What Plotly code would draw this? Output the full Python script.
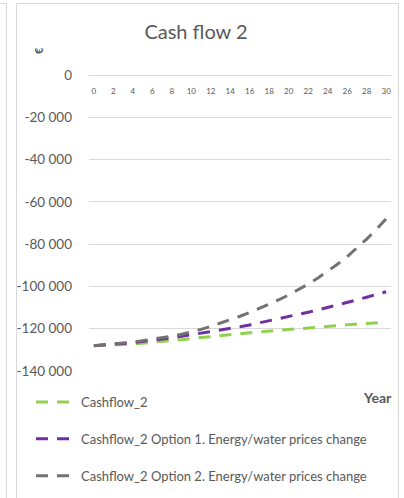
import plotly.graph_objects as go

# Cumulative cash flow (EUR) per year for the three scenarios
years = list(range(0, 31))
cashflow_base = [
    -128000, -127900, -127700, -127450, -127200, -126850, -126500, -126100,
    -125700, -125200, -124650, -124150, -123650, -123200, -122800, -122350,
    -121900, -121500, -121100, -120700, -120300, -119950, -119600, -119200,
    -118800, -118450, -118100, -117800, -117500, -117200, -116900,
]
cashflow_opt1 = [
    -128000, -127750, -127400, -127000, -126600, -126100, -125600, -125000,
    -124300, -123600, -122900, -122200, -121500, -120750, -120000, -119100,
    -118200, -117250, -116300, -115300, -114300, -113250, -112200, -111100,
    -110000, -108800, -107600, -106350, -105100, -103800, -102500,
]
cashflow_opt2 = [
    -128000, -127700, -127300, -126800, -126300, -125700, -125100, -124400,
    -123600, -122600, -121500, -120300, -118900, -117400, -115800, -114100,
    -112300, -110400, -108400, -106300, -104000, -101500, -98900, -96000,
    -92900, -89500, -85900, -81900, -77600, -73000, -68000,
]
series_names = [
    "Cashflow_2",
    "Cashflow_2 Option 1. Energy/water prices change",
    "Cashflow_2 Option 2. Energy/water prices change",
]
series_colors = ["#92D050", "#7030A0", "#767171"]

x_tick_vals = years[::2]
y_tick_vals = [0, -20000, -40000, -60000, -80000, -100000, -120000, -140000]
y_tick_text = ["0", "-20 000", "-40 000", "-60 000", "-80 000", "-100 000",
               "-120 000", "-140 000"]

W, H = 404, 498
ML, MR, MT, MB = 89, 13, 75, 127
PW, PH = W - ML - MR, H - MT - MB
FONT = "Lato"
TXT = "#595959"
GRID = "#D9D9D9"


def px_x(px):
    return (px - ML) / PW


def px_y(py):
    return (H - MB - py) / PH


fig = go.Figure()
for name, vals, col in zip(series_names,
                           [cashflow_base, cashflow_opt1, cashflow_opt2],
                           series_colors):
    fig.add_trace(go.Scatter(
        x=years, y=vals, name=name, mode="lines", legendgroup=name,
        line=dict(color=col, width=3, dash="12px,9px"),
    ))

fig.update_layout(
    width=W, height=H,
    margin=dict(l=ML, r=MR, t=MT, b=MB, pad=0, autoexpand=False),
    paper_bgcolor="white", plot_bgcolor="white",
    font=dict(family=FONT, color=TXT),
    title=dict(text="Cash flow 2", x=196 / W, xanchor="center",
               y=1 - 32 / H, yanchor="middle",
               font=dict(size=20, color=TXT, family=FONT)),
    xaxis=dict(
        range=[-0.5, 30.5], tickmode="array", tickvals=x_tick_vals,
        showgrid=False, zeroline=False, showline=False,
        anchor="free", position=1, side="bottom",
        ticks="", ticklabelstandoff=10,
        tickfont=dict(size=8, color=TXT, family=FONT),
    ),
    yaxis=dict(
        range=[-140000, 0], tickmode="array", tickvals=y_tick_vals,
        ticktext=y_tick_text, showgrid=True, gridcolor=GRID, gridwidth=1,
        zeroline=True, zerolinecolor=GRID, zerolinewidth=1,
        showline=False, ticks="", ticklabelstandoff=16,
        tickfont=dict(size=13.5, color=TXT, family=FONT),
    ),
    legend=dict(
        xref="container", yref="container",
        x=31 / W, y=1 - 387 / H, xanchor="left", yanchor="top",
        font=dict(size=13, color=TXT, family=FONT),
        tracegroupgap=17, itemwidth=40, bgcolor="rgba(0,0,0,0)",
        borderwidth=0,
    ),
    showlegend=True,
)

# Axis captions
fig.add_annotation(text="€", xref="paper", yref="paper",
                   x=px_x(30), y=px_y(45), showarrow=False, textangle=-90,
                   font=dict(size=11, color=TXT, family=FONT, weight="bold"))
fig.add_annotation(text="Year", xref="paper", yref="paper",
                   x=px_x(394), y=px_y(397), xanchor="right", yanchor="middle",
                   showarrow=False,
                   font=dict(size=14, color=TXT, family=FONT, weight="bold"))

# Chart frame and the edge of the neighbouring panel
fig.add_shape(type="rect", xref="paper", yref="paper",
              x0=px_x(16.5), x1=px_x(398.5), y0=px_y(3.5), y1=px_y(505),
              line=dict(color=GRID, width=1), fillcolor="rgba(0,0,0,0)")
fig.add_shape(type="line", xref="paper", yref="paper",
              x0=px_x(6.5), x1=px_x(6.5), y0=px_y(3.5), y1=px_y(505),
              line=dict(color=GRID, width=1))
fig.add_shape(type="line", xref="paper", yref="paper",
              x0=px_x(-5), x1=px_x(6.5), y0=px_y(3.5), y1=px_y(3.5),
              line=dict(color=GRID, width=1))

fig.write_html("out.html")
